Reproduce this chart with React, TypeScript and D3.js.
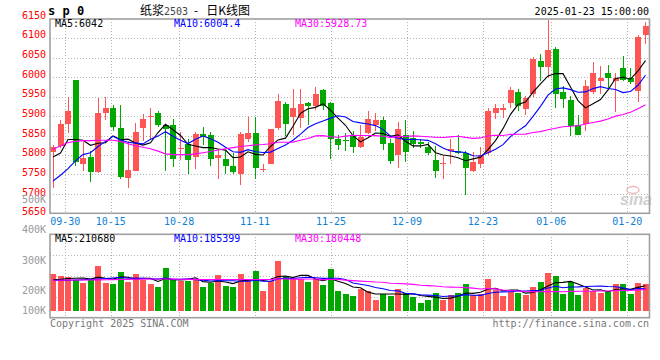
import React from "react";
import * as d3 from "d3";

// ---------- data ----------
const dates = (
  "09-26 09-27 09-30 10-08 10-09 10-10 10-11 10-14 10-15 10-16 10-17 10-18 10-21 10-22 10-23 10-24 10-25 10-28 10-29 10-30 10-31 " +
  "11-01 11-04 11-05 11-06 11-07 11-08 11-11 11-12 11-13 11-14 11-15 11-18 11-19 11-20 11-21 11-22 11-25 11-26 11-27 11-28 11-29 " +
  "12-02 12-03 12-04 12-05 12-06 12-09 12-10 12-11 12-12 12-13 12-16 12-17 12-18 12-19 12-20 12-23 12-24 12-25 12-26 12-27 12-30 12-31 " +
  "01-02 01-03 01-06 01-07 01-08 01-09 01-10 01-13 01-14 01-15 01-16 01-17 01-20 01-21 01-22 01-23"
).split(" ");

const opens = [
  5808, 5823, 5880, 5992, 5776, 5795, 5755, 5908, 5920, 5869,
  5742, 5760, 5869, 5897, 5908, 5876, 5877, 5816, 5828, 5794,
  5853, 5852, 5793, 5790, 5773, 5750, 5840, 5857, 5764, 5778,
  5869, 5931, 5897, 5895, 5933, 5925, 5967, 5933, 5841, 5839,
  5848, 5821, 5857, 5878, 5889, 5831, 5799, 5852, 5844, 5834,
  5821, 5787, 5778, 5810, 5810, 5806, 5760, 5778, 5806, 5908,
  5916, 5933, 5961, 5919, 5956, 6043, 6026, 6073, 5961, 5942,
  5877, 5880, 5961, 5990, 6012, 5990, 6023, 5997, 5964, 6108,
];
const highs = [
  5827, 5891, 5949, 5992, 5834, 5810, 5946, 5949, 5929, 5928,
  5835, 5882, 5905, 5920, 5912, 5880, 5892, 5860, 5842, 5860,
  5872, 5860, 5812, 5810, 5806, 5858, 5899, 5897, 5776, 5868,
  5956, 5937, 5970, 5970, 5937, 5976, 5970, 5937, 5852, 5857,
  5861, 5878, 5914, 5909, 5899, 5840, 5886, 5891, 5861, 5840,
  5834, 5823, 5801, 5842, 5851, 5810, 5808, 5821, 5920, 5931,
  5932, 5974, 5971, 5953, 6052, 6059, 6148, 6078, 5978, 5953,
  5903, 5993, 6040, 6029, 6031, 6012, 6054, 6023, 6108, 6143,
];
const lows = [
  5716, 5817, 5857, 5771, 5759, 5731, 5754, 5891, 5861, 5739,
  5714, 5758, 5836, 5839, 5873, 5759, 5770, 5786, 5752, 5764,
  5827, 5773, 5737, 5750, 5750, 5722, 5834, 5738, 5756, 5777,
  5865, 5848, 5852, 5869, 5878, 5916, 5916, 5789, 5814, 5810,
  5806, 5817, 5855, 5861, 5814, 5777, 5767, 5783, 5818, 5817,
  5799, 5740, 5737, 5778, 5802, 5697, 5757, 5766, 5801, 5893,
  5894, 5922, 5912, 5903, 5950, 5990, 5997, 5920, 5922, 5848,
  5851, 5863, 5958, 5958, 5967, 5910, 5990, 5984, 5937, 6086,
];
const closes = [
  5820, 5881, 5913, 5783, 5793, 5755, 5907, 5920, 5872, 5743,
  5762, 5859, 5892, 5900, 5876, 5868, 5789, 5818, 5787, 5855,
  5846, 5790, 5799, 5773, 5757, 5855, 5857, 5766, 5765, 5867,
  5939, 5880, 5920, 5931, 5926, 5956, 5925, 5840, 5827, 5835,
  5821, 5846, 5892, 5889, 5829, 5784, 5867, 5808, 5829, 5829,
  5804, 5760, 5779, 5816, 5805, 5767, 5783, 5801, 5914, 5920,
  5921, 5967, 5927, 5946, 6048, 6026, 6071, 5958, 5944, 5875,
  5852, 5977, 6012, 5997, 5999, 5999, 5993, 5987, 6103, 6133,
];
const volumes = [
  310000, 294000, 285000, 260000, 235000, 260000, 379000, 235000, 226000, 328000,
  243000, 310000, 260000, 226000, 200000, 361000, 260000, 251000, 251000, 268000,
  200000, 235000, 302000, 209000, 200000, 310000, 268000, 336000, 167000, 251000,
  420000, 294000, 268000, 268000, 243000, 268000, 217000, 353000, 167000, 141000,
  125000, 184000, 167000, 91000, 141000, 125000, 184000, 150000, 116000, 66000,
  91000, 150000, 91000, 133000, 150000, 226000, 133000, 141000, 268000, 176000,
  125000, 158000, 150000, 133000, 200000, 243000, 319000, 294000, 141000, 243000,
  133000, 192000, 167000, 150000, 158000, 226000, 226000, 141000, 235000, 226000,
];

// moving-average values before the window is complete
const ma5Head = [5795, 5805, 5840, 5840];
const ma10Head = [5733, 5748, 5765, 5785, 5801, 5806, 5822, 5835, 5848];
const ma30Head = [
  5815, 5823, 5832, 5835, 5837, 5837, 5838, 5838, 5838, 5835,
  5829, 5824, 5820, 5816, 5810, 5803, 5801, 5801, 5801, 5803,
  5806, 5809, 5813, 5816, 5819, 5822, 5824, 5826, 5827,
];
const volMa5Head = [262000, 265000, 272000, 275000];
const volMa10Head = [255000, 256000, 258000, 260000, 262000, 265000, 268000, 272000, 276000];
const volMa30Head = [
  258000, 258000, 259000, 259000, 260000, 260000, 261000, 262000, 263000, 264000,
  265000, 266000, 267000, 268000, 268000, 268000, 267000, 266000, 265000, 265000,
  264000, 264000, 264000, 264000, 264000, 264000, 264000, 264000, 264000,
];

const priceTicks = [6150, 6100, 6050, 6000, 5950, 5900, 5850, 5800, 5750, 5700, 5650];
const volTicks = [500000, 400000, 300000, 200000, 100000];
const volTickLabels = ["500K", "400K", "300K", "200K", "100K"];
const dateTicks = ["09-30", "10-15", "10-28", "11-11", "11-25", "12-09", "12-23", "01-06", "01-20"];

const priceLegend = ["MA5:6042", "MA10:6004.4", "MA30:5928.73"];
const volLegend = ["MA5:210680", "MA10:185399", "MA30:180448"];
const maColors = ["#000000", "#0000ff", "#ff00ff"];

// ---------- helpers ----------
function movingAvg(vals: number[], n: number, head: number[]) {
  return vals.map((_, i) =>
    i < n - 1 ? head[i] : d3.mean(vals.slice(i - n + 1, i + 1)) as number
  );
}

const MONO = "'DejaVu Sans Mono', 'Liberation Mono', monospace";
const RED = "#ff5555";
const GREEN = "#00a800";
const GRID = "#b4b4b4";
const FRAME = "#a0a0a0";

export default function App() {
  const N = dates.length;
  const L = 50, R = 649.5;
  const mainTop = 19, mainBot = 213.3;
  const volTop = 234.3, volBot = 317.7, volBase = 310.7;

  const x = d3.scaleBand<number>().domain(d3.range(N)).range([50, 650]).paddingInner(0.2).paddingOuter(0.1).align(0);
  const bw = x.bandwidth();
  const cx = (i: number) => (x(i) as number) + bw / 2;
  const gridX = d3.scaleLinear().domain([0, N - 1]).range([50, 650]);

  const y = d3.scaleLinear().domain([5650, 6150]).range([mainBot, mainTop]);
  const yLabel = d3.scaleLinear().domain([5650, 6150]).range([215.3, 18.7]);
  const yv = d3.scaleLinear().domain([0, 646000]).range([volBase, volTop]);
  const yvLabel = d3.scaleLinear().domain([200000, 500000]).range([293.7, 203.3]);

  const priceMAs = [movingAvg(closes, 5, ma5Head), movingAvg(closes, 10, ma10Head), movingAvg(closes, 30, ma30Head)];
  const volMAs = [movingAvg(volumes, 5, volMa5Head), movingAvg(volumes, 10, volMa10Head), movingAvg(volumes, 30, volMa30Head)];

  const priceLine = d3.line<number>().x((_, i) => cx(i)).y((d) => y(d));
  const volLine = d3.line<number>().x((_, i) => cx(i)).y((d) => yv(d));

  const tickIdx = dateTicks.map((d) => dates.indexOf(d));
  const r = (v: number) => Math.round(v) + 0.5;

  const volGridYs = [1, 2, 3].map((k) => volTop + ((volBot - volTop) * k) / 4);

  return (
    <svg width={660} height={360} style={{ position: "absolute", left: 0, top: 0, background: "#fff" }}>
      {/* header */}
      <text x={48} y={15} fontFamily={MONO} fontWeight="bold" fontSize={12} fill="#000">s p 0</text>
      <text x={140} y={15} fontFamily="'Noto Sans CJK SC', sans-serif" fontSize={12} fill="#000">
        纸浆<tspan fontFamily={MONO} fontSize={10} fill="#444">2503</tspan>
        <tspan dx={6}>-</tspan>
        <tspan dx={8}>日K线图</tspan>
      </text>
      <text x={649} y={15} textAnchor="end" fontFamily={MONO} fontSize={10} fill="#000">2025-01-23 15:00:00</text>

      {/* main grid */}
      {priceTicks.filter((t) => t > 5650 && t < 6150).map((t) => (
        <line key={"hg" + t} x1={L} x2={R} y1={r(y(t))} y2={r(y(t))} stroke={GRID} strokeDasharray="1,2" shapeRendering="crispEdges" />
      ))}
      {tickIdx.map((i) => (
        <line key={"vg" + i} x1={r(gridX(i))} x2={r(gridX(i))} y1={mainTop} y2={mainBot} stroke={GRID} strokeDasharray="1,2" shapeRendering="crispEdges" />
      ))}

      {/* price labels */}
      {priceTicks.map((t) => (
        <text key={"pl" + t} x={46} y={yLabel(t)} textAnchor="end" fontFamily={MONO} fontSize={10} fill="#ff0000">{t}</text>
      ))}

      {/* candles */}
      {closes.map((c, i) => {
        const o = opens[i];
        const up = c >= o;
        const col = up ? RED : GREEN;
        const top = y(Math.max(o, c));
        const h = Math.max(1, y(Math.min(o, c)) - top);
        return (
          <g key={"c" + i}>
            <line x1={r(cx(i) - 0.5)} x2={r(cx(i) - 0.5)} y1={y(highs[i])} y2={y(lows[i])} stroke={col} strokeWidth={1} shapeRendering="crispEdges" />
            <rect x={x(i)} y={top} width={bw} height={h} fill={col} shapeRendering="crispEdges" />
          </g>
        );
      })}

      {/* price MAs */}
      {priceMAs.map((m, k) => (
        <path key={"pm" + k} d={priceLine(m) as string} fill="none" stroke={maColors[k]} strokeWidth={1.1} />
      ))}

      {/* watermark */}
      <ellipse cx={633} cy={190} rx={6} ry={3.5} fill="none" stroke="#f0b8b8" strokeWidth={1.5} />
      <text x={620} y={205} fontFamily="'Liberation Sans', sans-serif" fontStyle="italic" fontWeight="bold" fontSize={16} fill="#cfcfcf">sina</text>

      {/* main frame */}
      <rect x={L} y={mainTop} width={R - L} height={mainBot - mainTop} fill="none" stroke={FRAME} strokeWidth={1.6} />

      {/* legend main */}
      {priceLegend.map((s, k) => (
        <text key={"lg" + k} x={[55, 174, 295][k]} y={27} fontFamily={MONO} fontSize={10} fill={maColors[k]}>{s}</text>
      ))}

      {/* date labels */}
      {tickIdx.map((i, k) => (
        <text key={"dl" + k} x={gridX(i)} y={225} textAnchor="middle" fontFamily={MONO} fontSize={10} fill="#0d7fd6">{dateTicks[k]}</text>
      ))}

      {/* volume grid */}
      {volGridYs.map((gy, k) => (
        <line key={"vhg" + k} x1={L} x2={R} y1={r(gy)} y2={r(gy)} stroke={GRID} strokeDasharray="1,2" shapeRendering="crispEdges" />
      ))}
      {tickIdx.map((i) => (
        <line key={"vvg" + i} x1={r(gridX(i))} x2={r(gridX(i))} y1={volTop} y2={volBot} stroke={GRID} strokeDasharray="1,2" shapeRendering="crispEdges" />
      ))}

      {/* volume bars */}
      {volumes.map((v, i) => (
        <rect key={"v" + i} x={x(i)} y={yv(v)} width={bw} height={volBase - yv(v)} fill={closes[i] >= opens[i] ? RED : GREEN} shapeRendering="crispEdges" />
      ))}

      {/* volume MAs */}
      {volMAs.map((m, k) => (
        <path key={"vm" + k} d={volLine(m) as string} fill="none" stroke={maColors[k]} strokeWidth={1.1} />
      ))}

      {/* volume frame */}
      <rect x={L} y={volTop} width={R - L} height={volBot - volTop} fill="none" stroke={FRAME} strokeWidth={1.6} />

      {/* volume labels */}
      {volTicks.map((v, k) => (
        <text key={"vl" + k} x={46} y={Math.min(yvLabel(v), 313.7)} textAnchor="end" fontFamily={MONO} fontSize={10} fill="#999">{volTickLabels[k]}</text>
      ))}

      {/* legend volume */}
      {volLegend.map((s, k) => (
        <text key={"vlg" + k} x={[55, 174, 295][k]} y={241.7} fontFamily={MONO} fontSize={10} fill={maColors[k]}>{s}</text>
      ))}

      {/* footer */}
      <text x={50} y={327} fontFamily={MONO} fontSize={10} fill="#777">Copyright 2025 SINA.COM</text>
      <text x={649} y={327} textAnchor="end" fontFamily={MONO} fontSize={10} fill="#777">http://finance.sina.com.cn</text>
    </svg>
  );
}
